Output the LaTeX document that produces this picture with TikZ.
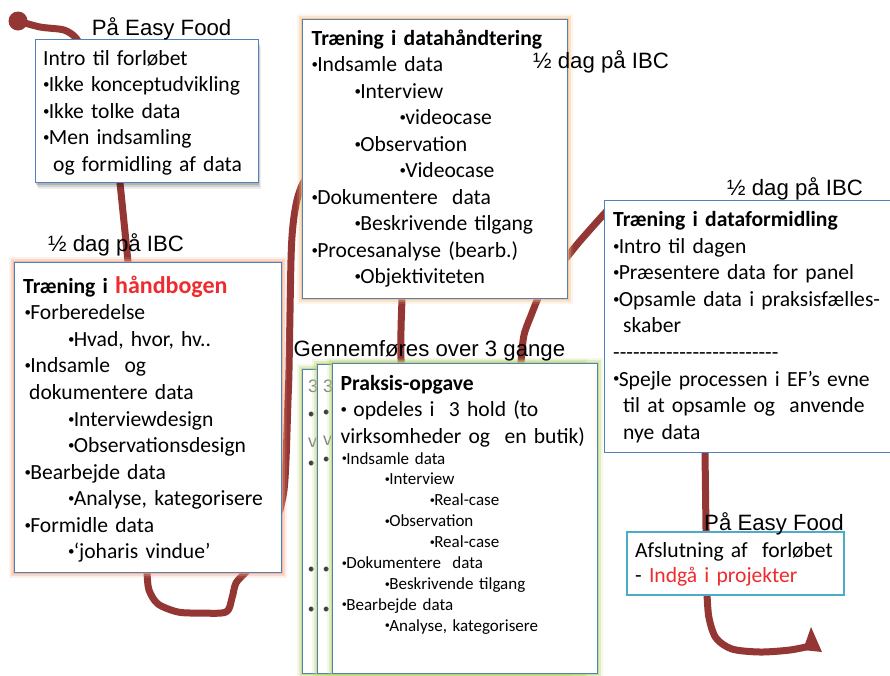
\documentclass[tikz,border=0pt]{standalone}
\usepackage{fontspec}
\usepackage{graphicx}
\setmainfont{Carlito}[Ligatures=TeXOff]
\newfontfamily\labelfont{Liberation Sans}
\usetikzlibrary{calc,shadows}

\definecolor{flowred}{HTML}{943634}
\definecolor{frameblue}{HTML}{4F81BD}
\definecolor{peach}{HTML}{F8B97A}
\definecolor{salmon}{HTML}{F2A07E}
\definecolor{leafgreen}{HTML}{B9D36C}
\definecolor{tealframe}{HTML}{4BACC6}
\definecolor{alertred}{HTML}{EE2B2E}
\definecolor{ghostgray}{HTML}{858585}

% small raised list bullet
\newcommand\itembullet{\raisebox{0.14em}{\scalebox{0.6}{•}}\kern-0.04em}

\begin{document}
\begin{tikzpicture}[x=1pt,y=-1pt,
  frame/.style={draw=frameblue,line width=0.9pt,fill=white,anchor=north west,inner sep=0pt},
  glow/.style={preaction={draw=#1,line width=11pt,draw opacity=.15},
               preaction={draw=#1,line width=7pt,draw opacity=.3},
               preaction={draw=#1,line width=3.5pt,draw opacity=.6}},
  softshadow/.style={general shadow={fill=black,opacity=.07,shadow xshift=3pt,shadow yshift=-7pt},
                     general shadow={fill=black,opacity=.12,shadow xshift=2pt,shadow yshift=-5pt},
                     general shadow={fill=black,opacity=.15,shadow xshift=1pt,shadow yshift=-3pt}},
  body/.style={anchor=base west,inner sep=0pt,align=left,text width=320pt,
               font=\fontsize{21.6}{26.55}\selectfont},
  smallbody/.style={anchor=base west,inner sep=0pt,align=left,text width=260pt,
               font=\fontsize{17}{20.9}\selectfont},
  caption/.style={anchor=base west,inner sep=0pt,font=\labelfont\fontsize{22.2}{24}\selectfont},
  ghost/.style={anchor=base west,inner sep=0pt,font=\labelfont\fontsize{18}{20}\selectfont},
  flow/.style={draw=flowred,line width=7pt,line cap=round,line join=round},
]
\useasboundingbox (0,0) rectangle (890,675);
\fill[white] (0,0) rectangle (890,675);

% ---------- the hand-drawn route (drawn first, boxes cover it) ----------
\coordinate (tail) at (18,21);
\coordinate (tip) at (822,652);
\fill[flowred] (tail) circle[radius=9.5pt];
\draw[flow]
  plot[smooth,tension=.5] coordinates {(tail) (40,27) (64,30) (76,38) (82,50)}
  -- plot[smooth,tension=.5] coordinates {(119,175) (120,183) (124,222) (128,262) (129,275)}
  -- plot[smooth,tension=.5] coordinates {(146,560) (147,573) (149,590) (158,604) (178,612) (200,613) (226,612) (232,598) (236,583) (246,572) (252,565)}
  -- plot[smooth,tension=.5] coordinates {(280,510) (284,490) (286,460) (288,400) (289,370) (291,260) (293,225) (297,200) (303,183) (310,175)}
  -- plot[smooth,tension=.5] coordinates {(402,290) (402,298) (401,330) (401,362) (401,372)}
  -- plot[smooth,tension=.5] coordinates {(520,372) (521,362) (524,335) (532,313) (538,298) (542,290)}
  -- plot[smooth,tension=.5] coordinates {(560,265) (567,257) (580,241) (604,214) (610,208)}
  -- plot[smooth,tension=.5] coordinates {(705,445) (705,452) (706,530) (706,538)}
  -- plot[smooth,tension=.5] coordinates {(707,590) (707,595) (709,618) (716,638) (732,649) (760,652) (790,650) (810,646)};
\fill[flowred] ($(tip)+(-19,-2)$) -- ($(tip)+(-11,-25)$) -- (tip) -- cycle;

% ---------- boxes ----------
\node[frame,softshadow,minimum width=223pt,minimum height=143pt] (intro) at (34.5,38.5) {};
\node[frame,glow=peach,minimum width=265pt,minimum height=279pt] (datahandling) at (302,19) {};
\node[frame,minimum width=290pt,minimum height=252pt] (dataformidling) at (604,200) {};
\node[frame,glow=salmon,minimum width=267pt,minimum height=310pt] (handbook) at (14,262) {};

% stacked practice sheets
\node[frame,glow=leafgreen,minimum width=265pt,minimum height=304pt] (sheetback) at (302,369) {};
\foreach \t/\c/\yy [count=\i] in {3/ghostgray/392, •/black!75/420, v/ghostgray/447, •/black!75/469, •/black!75/575, •/black!75/615}
  \node[ghost,text=\c] (bk\i) at (308,\yy) {\t};
\node[frame,glow=leafgreen,minimum width=265pt,minimum height=309pt] (sheetmid) at (317,364) {};
\foreach \t/\c/\yy [count=\i] in {3/ghostgray/392, •/black!75/418, v/ghostgray/445, •/black!75/465, •/black!75/575, •/black!75/615}
  \node[ghost,text=\c] (md\i) at (323,\yy) {\t};
\node[frame,glow=leafgreen,minimum width=265pt,minimum height=310pt] (sheetfront) at (332,363) {};

\node[frame,draw=tealframe,line width=2.4pt,minimum width=217pt,minimum height=63pt] (closing) at (625.5,531) {};

% ---------- box texts ----------
\node[body] (introtext) at (43,65) {Intro til forløbet\\
\itembullet Ikke konceptudvikling\\
\itembullet Ikke tolke data\\
\itembullet Men indsamling\\
\hspace*{10pt}og formidling af data};

\node[body] (datahandlingtext) at (311.5,45) {\textbf{Træning i datahåndtering}\\
\itembullet Indsamle data\\
\hspace*{43pt}\itembullet Interview\\
\hspace*{88pt}\itembullet videocase\\
\hspace*{43pt}\itembullet Observation\\
\hspace*{88pt}\itembullet Videocase\\
\itembullet Dokumentere~ data\\
\hspace*{43pt}\itembullet Beskrivende tilgang\\
\itembullet Procesanalyse (bearb.)\\
\hspace*{43pt}\itembullet Objektiviteten};

\node[body] (dataformidlingtext) at (613,226.7) {\textbf{Træning i dataformidling}\\
\itembullet Intro til dagen\\
\itembullet Præsentere data for panel\\
\itembullet Opsamle data i praksisfælles-\\
\hspace*{10pt}skaber\\
-------------------------\\
\itembullet Spejle processen i EF’s evne\\
\hspace*{10pt}til at opsamle og~ anvende\\
\hspace*{10pt}nye data};

\node[body] (handbooktext) at (23,293.3) {\textbf{Træning i \textcolor{alertred}{\fontsize{24}{26.55}\selectfont håndbogen}}\\
\hspace*{1.5pt}\itembullet Forberedelse\\
\hspace*{45pt}\itembullet Hvad, hvor, hv..\\
\hspace*{1.5pt}\itembullet Indsamle~ og\\
\hspace*{6pt}dokumentere data\\
\hspace*{45pt}\itembullet Interviewdesign\\
\hspace*{45pt}\itembullet Observationsdesign\\
\hspace*{1.5pt}\itembullet Bearbejde data\\
\hspace*{45pt}\itembullet Analyse, kategorisere\\
\hspace*{1.5pt}\itembullet Formidle data\\
\hspace*{45pt}\itembullet ‘joharis vindue’};

\node[body] (sheettitle) at (340.5,390) {\textbf{Praksis-opgave}\\
\itembullet\ opdeles i~ 3 hold (to\\
virksomheder og~ en butik)};

\node[smallbody] (sheetlist) at (341.7,464) {\itembullet Indsamle data\\
\hspace*{43pt}\itembullet Interview\\
\hspace*{88pt}\itembullet Real-case\\
\hspace*{43pt}\itembullet Observation\\
\hspace*{88pt}\itembullet Real-case\\
\itembullet Dokumentere~ data\\
\hspace*{43pt}\itembullet Beskrivende tilgang\\
\itembullet Bearbejde data\\
\hspace*{43pt}\itembullet Analyse, kategorisere};

\node[body,font=\fontsize{21.6}{25.4}\selectfont] (closingtext) at (635,557.3) {Afslutning af~ forløbet\\
- \textcolor{alertred}{Indgå i projekter}};

% ---------- captions ----------
\node[caption] (placetop) at (91.7,35) {På Easy Food};
\node[caption] (ibcmid) at (533,68.3) {½ dag på IBC};
\node[caption] (ibcright) at (727,195) {½ dag på IBC};
\node[caption] (ibcleft) at (48,251.7) {½ dag på IBC};
\node[caption] (rounds) at (293.5,356) {Gennemføres over 3 gange};
\node[caption] (placeend) at (704,530.7) {På Easy Food};
\end{tikzpicture}
\end{document}
